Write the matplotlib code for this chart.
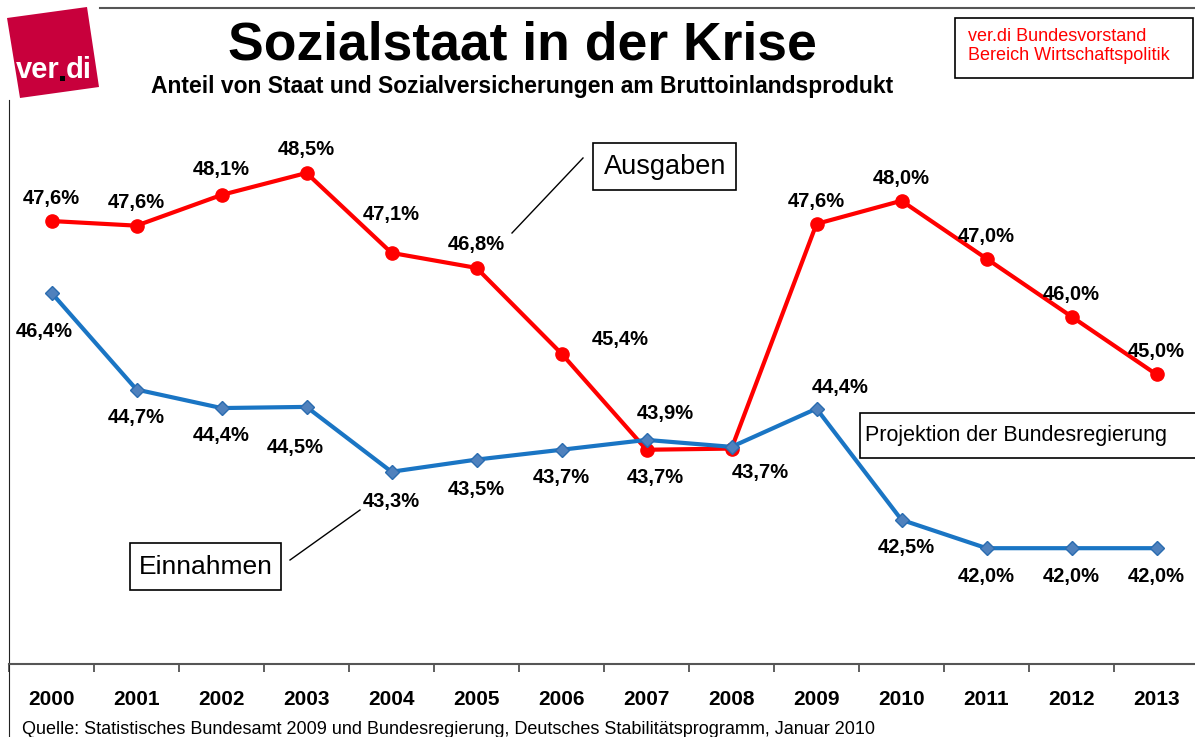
import numpy as np
import matplotlib.pyplot as plt
from matplotlib.patches import Polygon, Rectangle

plt.rcParams['font.family'] = ['Liberation Sans', 'DejaVu Sans']

# data
jahre = ['2000', '2001', '2002', '2003', '2004', '2005', '2006',
         '2007', '2008', '2009', '2010', '2011', '2012', '2013']
ausgaben = [47.65, 47.57, 48.1, 48.48, 47.1, 46.84, 45.36,
            43.7, 43.72, 47.6, 48.0, 47.0, 46.0, 45.0]
ausgaben_lbl = ['47,6%', '47,6%', '48,1%', '48,5%', '47,1%', '46,8%', '45,4%',
                '43,7%', '43,7%', '47,6%', '48,0%', '47,0%', '46,0%', '45,0%']
einnahmen = [46.41, 44.74, 44.42, 44.44, 43.32, 43.53, 43.7,
             43.87, 43.75, 44.41, 42.49, 42.0, 42.0, 42.0]
einnahmen_lbl = ['46,4%', '44,7%', '44,4%', '44,5%', '43,3%', '43,5%', '43,7%',
                 '43,9%', '', '44,4%', '42,5%', '42,0%', '42,0%', '42,0%']

# label offsets in pixels
off_a = [(0, 23), (0, 23), (0, 25), (0, 23), (0, 38), (0, 23), (59, 14),
         (9, -28), (29, -24), (0, 22), (0, 22), (0, 22), (0, 22), (0, 23)]
off_e = [(-7, -39), (0, -28), (0, -27), (-11, -41), (0, -30), (0, -30), (0, -28),
         (19, 26), (0, 0), (24, 21), (5, -28), (0, -28), (0, -28), (0, -28)]

W, H = 1195, 737
fig = plt.figure(figsize=(W / 100, H / 100), dpi=100)
ax = fig.add_axes([9 / W, 73 / H, 1190 / W, 564 / H])

x = np.arange(len(jahre))
ax.plot(x, ausgaben, color='#ff0000', lw=3, marker='o', ms=9.5, zorder=3)
ax.plot(x, einnahmen, color='#1a75c4', lw=3, marker='D', ms=7,
        mfc='#4f81bd', mec='#2a6cb0', zorder=3)

for i in range(len(x)):
    ax.annotate(ausgaben_lbl[i], (x[i], ausgaben[i]), xytext=off_a[i],
                textcoords='offset pixels', ha='center', va='center',
                fontsize=14.5, fontweight='bold')
    if einnahmen_lbl[i]:
        ax.annotate(einnahmen_lbl[i], (x[i], einnahmen[i]), xytext=off_e[i],
                    textcoords='offset pixels', ha='center', va='center',
                    fontsize=14.5, fontweight='bold')

ax.set_xlim(-0.5, len(jahre) - 0.5)
ax.set_ylim(40, 49.74)
ax.set_yticks([])
ax.set_xticks(x)
ax.set_xticklabels(jahre, fontsize=15, fontweight='bold')
ax.tick_params(axis='x', which='major', length=0, pad=19)
ax.set_xticks(np.arange(-0.5, len(jahre), 1), minor=True)
ax.tick_params(axis='x', which='minor', length=6, width=1.2, color='#444444',
               direction='out')
for s in ['top', 'right']:
    ax.spines[s].set_visible(False)
ax.spines['bottom'].set_color('#555555')
ax.spines['bottom'].set_linewidth(1.5)
ax.spines['left'].set_color('#222222')
ax.spines['left'].set_bounds(37, 49.74)

# text boxes and leader lines (pixel coords)
def px(xp, yp):
    return xp / W, 1 - yp / H

def box(x0, y0, x1, y1):
    fig.add_artist(Rectangle(px(x0, y1), (x1 - x0) / W, (y1 - y0) / H,
                             transform=fig.transFigure, fc='white', ec='black', lw=1.2))

box(593, 143, 736, 190)
fig.text(*px(665, 167), 'Ausgaben', fontsize=19.5, ha='center', va='center')
box(130, 543, 281, 590)
fig.text(*px(206, 567), 'Einnahmen', fontsize=19, ha='center', va='center')
box(860, 413, 1205, 458)
fig.text(*px(1016, 436), 'Projektion der Bundesregierung', fontsize=15.5,
         ha='center', va='center')
fig.add_artist(plt.Line2D([583 / W, 512 / W], [1 - 158 / H, 1 - 233 / H],
                          color='black', lw=1))
fig.add_artist(plt.Line2D([290 / W, 360 / W], [1 - 560 / H, 1 - 510 / H],
                          color='black', lw=1))

# header
fig.add_artist(plt.Line2D([100 / W, 1], [1 - 8 / H, 1 - 8 / H], color='#555555', lw=1.5))
fig.text(*px(522, 45), 'Sozialstaat in der Krise', fontsize=38.5, fontweight='bold',
         ha='center', va='center')
fig.text(*px(522, 87), 'Anteil von Staat und Sozialversicherungen am Bruttoinlandsprodukt',
         fontsize=16.5, fontweight='bold', ha='center', va='center')
box(955, 18, 1193, 78)
fig.text(*px(968, 46), 'ver.di Bundesvorstand\nBereich Wirtschaftspolitik',
         color='#ff0000', fontsize=13, ha='left', va='center', linespacing=1.1)

# logo
logo = [px(7, 18), px(87, 7), px(99, 87), px(20, 98)]
fig.add_artist(Polygon(logo, closed=True, transform=fig.transFigure,
                       fc='#c8003c', ec='none'))
fig.text(*px(60, 70), 'ver', color='white', fontsize=21, fontweight='bold',
         ha='right', va='center')
fig.text(*px(66, 70), 'di', color='white', fontsize=21, fontweight='bold',
         ha='left', va='center')
fig.add_artist(Rectangle(px(60, 81), 5 / W, 5 / H, transform=fig.transFigure,
                         fc='black', ec='none'))

fig.text(*px(22, 729), 'Quelle: Statistisches Bundesamt 2009 und Bundesregierung, '
         'Deutsches Stabilitätsprogramm, Januar 2010', fontsize=13,
         ha='left', va='center')

fig.savefig('out.png', dpi=100)
